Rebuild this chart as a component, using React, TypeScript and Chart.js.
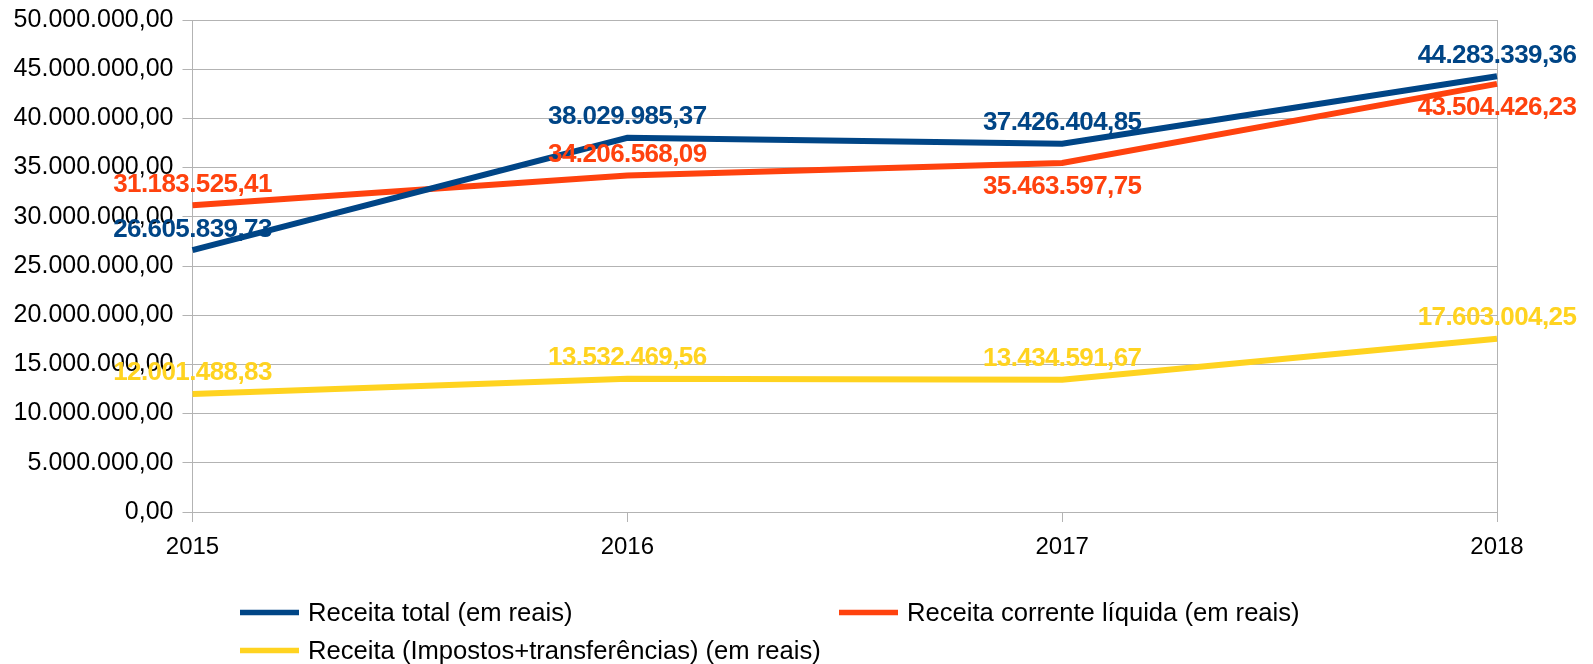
import React, { useEffect, useRef } from "react";
import { Chart, registerables } from "chart.js";

Chart.register(...registerables);

const categories = ["2015", "2016", "2017", "2018"];
const receitaTotal = [26605839.73, 38029985.37, 37426404.85, 44283339.36];
const receitaCorrenteLiquida = [31183525.41, 34206568.09, 35463597.75, 43504426.23];
const receitaImpostosTransf = [12001488.83, 13532469.56, 13434591.67, 17603004.25];
const seriesNames = [
  "Receita total (em reais)",
  "Receita corrente líquida (em reais)",
  "Receita (Impostos+transferências) (em reais)",
];
const seriesColors = ["#004586", "#ff420e", "#ffd320"];
const yMin = 0;
const yMax = 50000000;
const yStep = 5000000;

function fmtBR(v: number): string {
  const fixed = Math.abs(v).toFixed(2);
  const [intPart, dec] = fixed.split(".");
  const withDots = intPart.replace(/\B(?=(\d{3})+(?!\d))/g, ".");
  return (v < 0 ? "-" : "") + withDots + "," + dec;
}

// label placement per series (style): above / below the point
const labelPlacement = [
  ["above", "above", "above", "above"],
  ["above", "above", "below", "below"],
  ["above", "above", "above", "above"],
];

const GRID = "#b3b3b3";
const FONT = '"Liberation Sans", Arial, sans-serif';

const dataLabelsPlugin = {
  id: "dataLabelsCustom",
  afterDatasetsDraw(chart: any) {
    const ctx = chart.ctx as CanvasRenderingContext2D;
    ctx.save();
    ctx.font = `bold 26px ${FONT}`;
    (ctx as any).letterSpacing = "-0.6px";
    ctx.textAlign = "center";
    ctx.textBaseline = "alphabetic";
    chart.data.datasets.forEach((ds: any, i: number) => {
      const meta = chart.getDatasetMeta(i);
      meta.data.forEach((pt: any, j: number) => {
        const v = ds.data[j] as number;
        const below = labelPlacement[i][j] === "below";
        const y = below ? pt.y + 31 : pt.y - 13.5;
        ctx.fillStyle = seriesColors[i];
        ctx.fillText(fmtBR(v), pt.x, y);
      });
    });
    ctx.restore();
  },
};

const legendPlugin = {
  id: "legendCustom",
  afterDraw(chart: any) {
    const ctx = chart.ctx as CanvasRenderingContext2D;
    const cols = [240, 839];
    const rows = [612.5, 650.5];
    ctx.save();
    ctx.font = `25.6px ${FONT}`;
    ctx.textAlign = "left";
    ctx.textBaseline = "alphabetic";
    seriesNames.forEach((name, i) => {
      const x = cols[i % 2];
      const y = rows[Math.floor(i / 2)];
      ctx.strokeStyle = seriesColors[i];
      ctx.lineWidth = 5.5;
      ctx.lineCap = "butt";
      ctx.beginPath();
      ctx.moveTo(x, y);
      ctx.lineTo(x + 59, y);
      ctx.stroke();
      ctx.fillStyle = "#000";
      ctx.fillText(name, x + 68, y + 8.5);
    });
    ctx.restore();
  },
};

export default function App() {
  const canvasRef = useRef<HTMLCanvasElement | null>(null);

  useEffect(() => {
    if (!canvasRef.current) return;
    const seriesData = [receitaTotal, receitaCorrenteLiquida, receitaImpostosTransf];
    const chart = new Chart(canvasRef.current, {
      type: "line",
      data: {
        labels: categories,
        datasets: seriesData.map((d, i) => ({
          label: seriesNames[i],
          data: d,
          borderColor: seriesColors[i],
          backgroundColor: seriesColors[i],
          borderWidth: 6,
          pointRadius: 0,
          pointHoverRadius: 0,
          tension: 0,
          fill: false,
        })),
      },
      options: {
        animation: false,
        responsive: true,
        maintainAspectRatio: false,
        layout: { padding: { top: 20, right: 96, bottom: 102, left: 0 } },
        plugins: {
          legend: { display: false },
          tooltip: { enabled: false },
        },
        scales: {
          x: {
            type: "category",
            offset: false,
            grid: {
              color: (c: any) => (c.index === categories.length - 1 ? GRID : "rgba(0,0,0,0)"),
              tickColor: GRID,
              tickLength: 10,
              drawTicks: true,
              lineWidth: 1,
            },
            border: { display: true, color: GRID },
            ticks: {
              font: { family: FONT, size: 24 },
              color: "#000",
              padding: 11,
              maxRotation: 0,
              autoSkip: false,
            },
            afterFit: (s: any) => {
              s.height = 50;
            },
          },
          y: {
            min: yMin,
            max: yMax,
            grid: { color: GRID, tickColor: GRID, tickLength: 10, lineWidth: 1 },
            border: { display: true, color: GRID },
            ticks: {
              stepSize: yStep,
              font: { family: FONT, size: 25 },
              color: "#000",
              padding: 9,
              callback: (v: any) => fmtBR(Number(v)),
            },
            afterFit: (s: any) => {
              s.width = 192.5;
              s.paddingTop = 0;
              s.paddingBottom = 0;
            },
          },
        },
      },
      plugins: [dataLabelsPlugin, legendPlugin],
    });
    return () => chart.destroy();
  }, []);

  return (
    <div
      style={{
        position: "fixed",
        left: 0,
        top: 0,
        width: "100vw",
        height: "100vh",
        background: "#fff",
      }}
    >
      <canvas ref={canvasRef} />
    </div>
  );
}
